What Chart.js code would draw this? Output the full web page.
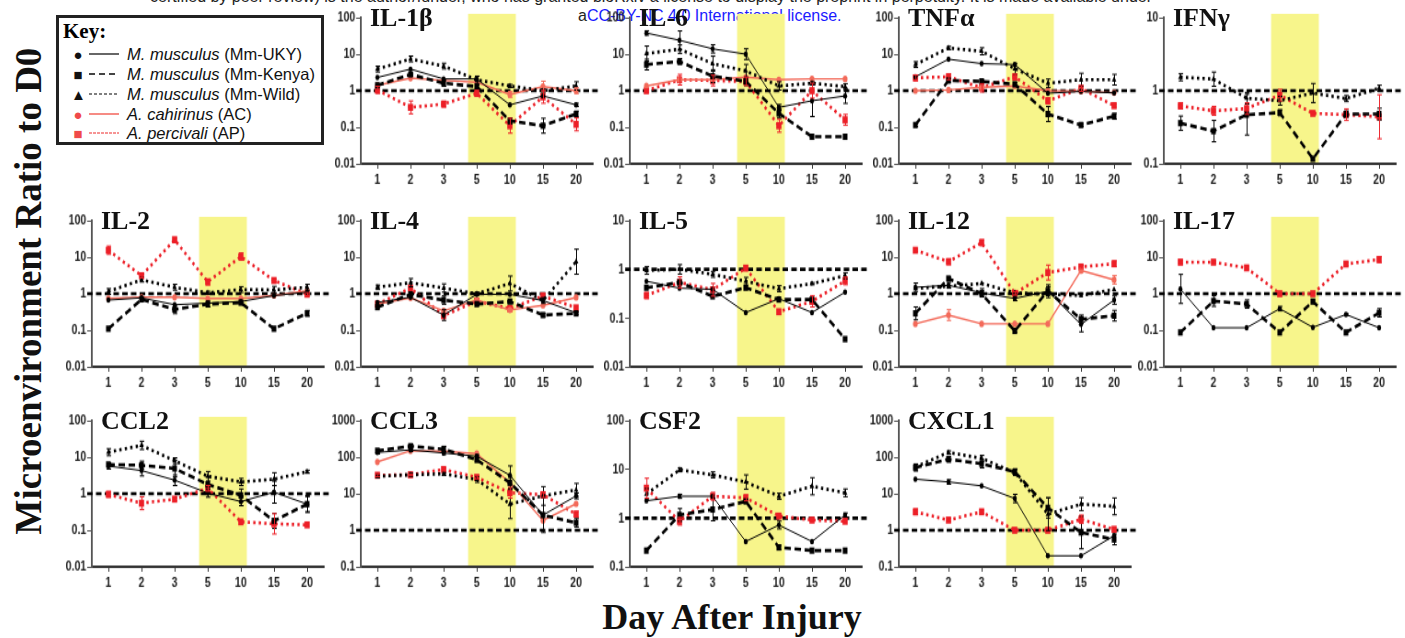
<!DOCTYPE html>
<html>
<head>
<meta charset="utf-8">
<script src="https://cdn.jsdelivr.net/npm/chart.js@4.4.1/dist/chart.umd.min.js"></script>
<style>
  body { margin:0; width:1405px; height:638px; background:#fff; position:relative; overflow:hidden;
         font-family:'Liberation Sans', Arial, sans-serif; }
  .panel { position:absolute; width:276px; height:189px; }
  .ptitle { position:absolute; font:bold 26px 'Liberation Serif','Times New Roman',serif; line-height:1; color:#111; white-space:nowrap; }
  .hdr { position:absolute; font-size:16px; line-height:1; white-space:nowrap; color:#222; }
  .key { position:absolute; left:56px; top:15px; width:268px; height:130px; border:3px solid #222; box-sizing:border-box; background:#fff; }
  .key h4 { margin:0; position:absolute; left:4px; top:3px; font:bold 21px 'Liberation Serif',serif; line-height:1; }
  .krow { position:absolute; left:0; height:20px; display:flex; align-items:center; font-size:16.5px; color:#111; white-space:nowrap; }
  .kmark { width:14px; text-align:center; margin-left:12px; font-size:15px; line-height:1; }
  .kline { margin:0 8px 0 4px; }
  .axt { position:absolute; font:bold 37px 'Liberation Serif','Times New Roman',serif; line-height:1; white-space:nowrap; color:#111; }
</style>
</head>
<body>
<div class="hdr" style="left:150px;top:-11px;">certified by peer review) is the author/funder, who has granted bioRxiv a license to display the preprint in perpetuity. It is made available under</div>
<div class="hdr" style="left:578px;top:8px;color:#1a1aff;"><span style="color:#222">a</span>CC-BY-NC 4.0 International license.</div>

<div class="key">
  <h4>Key:</h4>
  <div class="krow" style="top:26px"><span class="kmark">●</span><svg class="kline" width="30" height="4"><line x1="0" y1="2" x2="30" y2="2" stroke="#000" stroke-width="1.2"/></svg><span><i>M. musculus</i> (Mm-UKY)</span></div>
  <div class="krow" style="top:46px"><span class="kmark">■</span><svg class="kline" width="30" height="4"><line x1="0" y1="2" x2="30" y2="2" stroke="#444" stroke-width="2" stroke-dasharray="6 4"/></svg><span><i>M. musculus</i> (Mm-Kenya)</span></div>
  <div class="krow" style="top:66px"><span class="kmark">▲</span><svg class="kline" width="30" height="4"><line x1="0" y1="2" x2="30" y2="2" stroke="#000" stroke-width="1.2" stroke-dasharray="3 2"/></svg><span><i>M. musculus</i> (Mm-Wild)</span></div>
  <div class="krow" style="top:86px"><span class="kmark" style="color:#f04a4a">●</span><svg class="kline" width="30" height="4"><line x1="0" y1="2" x2="30" y2="2" stroke="#f25a50" stroke-width="1.4"/></svg><span><i>A. cahirinus</i> (AC)</span></div>
  <div class="krow" style="top:105px"><span class="kmark" style="color:#f04a4a">■</span><svg class="kline" width="30" height="4"><line x1="0" y1="2" x2="30" y2="2" stroke="#ee2a2a" stroke-width="1.2" stroke-dasharray="3 1"/></svg><span><i>A. percivali</i> (AP)</span></div>
</div>

<div class="axt" style="left:28px;top:291px;transform:translate(-50%,-50%) rotate(-90deg);">Microenvironment Ratio to D0</div>
<div class="axt" style="left:732px;top:599px;transform:translateX(-50%);font-size:36px;">Day After Injury</div>

<script>
// days after injury (x categories)
const days = ['1', '2', '3', '5', '10', '15', '20'];
const injuryBand = ['5', '10'];

// y tick labels
const ticks4 = [0.01, 0.1, 1, 10, 100];
const ticksIL5 = [0.01, 0.1, 1, 10];
const ticksIFN = [0.1, 1, 10];
const ticksHigh = [0.1, 1, 10, 100, 1000];
const ticksCSF = [0.1, 1, 10, 100];

// ratio to D0, null = strain not plotted
const il1b = {
  uky:   [2.3, 3.9, 2.1, 2.1, 0.41, 0.72, 0.41],
  kenya: [1.4, 2.8, 1.6, 1.3, 0.15, 0.11, 0.23],
  wild:  [3.9, 7.4, 4.7, 2.0, 1.35, 1.0, 1.35],
  ac:    [1.4, 2.2, 1.9, 1.7, 0.79, 1.3, 1.0],
  ap:    [1.05, 0.35, 0.43, 0.85, 0.11, 0.68, 0.12]
};
const il6 = {
  uky:   [38, 24, 14, 10, 0.35, 0.53, 0.72],
  kenya: [5.2, 6.3, 2.5, 1.8, 0.24, 0.055, 0.055],
  wild:  [10.4, 13.7, 5.5, 3.5, 1.35, 1.6, 1.3],
  ac:    [1.35, 2.0, 2.0, 2.35, 2.0, 2.1, 2.1],
  ap:    [1.0, 2.0, 1.9, 1.8, 0.11, 1.0, 0.16]
};
const tnfa = {
  uky:   [2.4, 7.3, 5.5, 5.2, 0.85, 0.96, 0.87],
  kenya: [0.115, 1.9, 1.8, 1.5, 0.23, 0.115, 0.2],
  wild:  [5.2, 14.8, 12, 4.0, 1.6, 2.0, 2.0],
  ac:    [1.0, 1.05, 1.25, 1.35, 1.0, 0.97, 0.88],
  ap:    [2.25, 2.4, 1.2, 2.4, 0.53, 1.15, 0.39]
};
const ifng = {
  uky:   null,
  kenya: [0.36, 0.28, 0.47, 0.50, 0.117, 0.48, 0.48],
  wild:  [1.53, 1.44, 0.79, 0.73, 0.93, 0.78, 1.08],
  ac:    null,
  ap:    [0.62, 0.53, 0.57, 0.87, 0.49, 0.47, 0.44]
};
const il2 = {
  uky:   [0.67, 0.77, 0.50, 0.55, 0.61, 0.89, 1.1],
  kenya: [0.11, 0.70, 0.37, 0.52, 0.57, 0.11, 0.29],
  wild:  [1.15, 2.4, 1.5, 1.06, 1.3, 1.27, 1.5],
  ac:    [0.74, 0.8, 0.8, 0.74, 0.74, 0.89, 1.2],
  ap:    [15.5, 3.1, 30, 2.1, 10.4, 2.3, 0.97]
};
const il4 = {
  uky:   [0.58, 0.8, 0.26, 0.96, 0.96, 0.65, 0.30],
  kenya: [0.43, 0.96, 0.67, 0.52, 0.61, 0.26, 0.29],
  wild:  [1.5, 2.0, 1.43, 1.0, 1.9, 0.65, 7.5],
  ac:    [0.52, 0.77, 0.34, 0.67, 0.36, 0.48, 0.79],
  ap:    [0.52, 1.43, 0.25, 0.63, 0.39, 0.87, 0.41]
};
const il5 = {
  uky:   [0.57, 0.41, 0.39, 0.13, 0.25, 0.13, 0.34],
  kenya: [0.42, 0.54, 0.28, 0.42, 0.24, 0.24, 0.037],
  wild:  [0.95, 1.0, 0.79, 0.57, 0.40, 0.51, 0.74],
  ac:    null,
  ap:    [0.29, 0.54, 0.38, 1.06, 0.135, 0.22, 0.58]
};
const il12 = {
  uky:   [1.5, 1.7, 1.06, 0.74, 1.17, 0.145, 0.67],
  kenya: [0.29, 2.6, 1.0, 0.096, 1.2, 0.2, 0.25],
  wild:  [1.4, 1.6, 1.9, 1.06, 0.96, 0.9, 1.3],
  ac:    [0.15, 0.26, 0.15, 0.15, 0.15, 4.3, 2.4],
  ap:    [15.5, 7.5, 25, 1.02, 3.8, 5.4, 6.6]
};
const il17 = {
  uky:   [1.35, 0.117, 0.117, 0.39, 0.12, 0.27, 0.117],
  kenya: [0.087, 0.63, 0.52, 0.087, 0.61, 0.087, 0.30],
  wild:  null,
  ac:    null,
  ap:    [7.3, 7.3, 5.1, 1.0, 1.0, 6.5, 8.6]
};
const ccl2 = {
  uky:   [5.7, 4.3, 2.35, 1.04, 0.61, 1.1, 0.52],
  kenya: [6.3, 6.0, 4.9, 1.8, 0.9, 0.18, 0.52],
  wild:  [13.7, 21, 8, 3.0, 2.1, 2.5, 4.0],
  ac:    null,
  ap:    [0.96, 0.55, 0.71, 1.4, 0.17, 0.15, 0.14]
};
const ccl3 = {
  uky:   [135, 158, 130, 106, 32, 2.6, 8.7],
  kenya: [150, 200, 165, 85, 20, 2.6, 1.6],
  wild:  [30, 33, 35, 24.5, 5.2, 8.7, 12.7],
  ac:    [74, 150, 145, 125, 20, 1.85, 5.3],
  ap:    [32, 33, 46, 28, 10.6, 9.4, 2.75]
};
const csf2 = {
  uky:   [2.26, 2.8, 2.8, 0.33, 0.72, 0.33, 1.16],
  kenya: [0.215, 1.16, 1.5, 2.2, 0.25, 0.215, 0.215],
  wild:  [3.1, 9.8, 7.7, 5.5, 2.8, 4.5, 3.3],
  ac:    null,
  ap:    [4.1, 0.86, 2.8, 2.6, 1.1, 0.91, 0.86]
};
const cxcl1 = {
  uky:   [25, 21, 16.4, 7.4, 0.2, 0.2, 0.71],
  kenya: [52, 88, 66, 40, 4.1, 0.87, 0.56],
  wild:  [54, 135, 93, 38, 2.75, 5.2, 4.5],
  ac:    null,
  ap:    [3.2, 1.9, 3.2, 1.0, 1.0, 2.0, 1.06]
};

// error bars as a multiplicative spread (bar runs from v/f to v*f), 1 = no visible bar
const il1bErr = {
  uky:   [1, 1, 1, 1, 1, 1, 1.1],
  kenya: [1.1, 1.1, 1.2, 1.1, 1.2, 1.6, 1.2],
  wild:  [1.2, 1.2, 1.2, 1.25, 1.1, 1.1, 1.3],
  ac:    [1, 1, 1, 1, 1.2, 1.4, 1.2],
  ap:    [1.25, 1.5, 1.2, 1.2, 1.6, 1.5, 1.5]
};
const il6Err = {
  uky:   [1.15, 1.8, 1.3, 1.4, 1.2, 2.7, 1.6],
  kenya: [1.4, 1.2, 1.5, 1.3, 1.3, 1, 1],
  wild:  [1.6, 1.3, 1.6, 1.5, 1.3, 1.1, 1.2],
  ap:    [1.1, 1.4, 1.4, 1.3, 1.5, 1.6, 1.4]
};
const tnfaErr = {
  kenya: [1.1, 1.1, 1.1, 1.1, 1.6, 1.1, 1.2],
  wild:  [1.2, 1.1, 1.25, 1.4, 1.3, 1.5, 1.4],
  ap:    [1.2, 1.2, 1.3, 1.2, 1.2, 1.2, 1.1]
};
const ifngErr = {
  kenya: [1.25, 1.4, 1.9, 1.1, 1, 1.1, 1.2],
  wild:  [1.12, 1.25, 1.2, 1.15, 1.35, 1.1, 1.1],
  ap:    [1.1, 1.15, 1.2, 1.2, 1.05, 1.2, 2.0]
};
const il2Err = {
  kenya: [1, 1.1, 1.3, 1.2, 1.1, 1, 1.2],
  wild:  [1.2, 1.15, 1.2, 1.1, 1.2, 1.25, 1.2],
  ap:    [1.3, 1.15, 1.1, 1.2, 1.25, 1.1, 1.1]
};
const il4Err = {
  uky:   [1, 1, 1.4, 1, 1, 1, 1],
  kenya: [1.1, 1.1, 1.3, 1.1, 1.1, 1.1, 1.1],
  wild:  [1.15, 1.3, 1.3, 1.1, 1.6, 1.2, 2.2]
};
const il5Err = {
  wild:  [1.2, 1.25, 1.15, 1.2, 1.15, 1.05, 1.15],
  ap:    [1.15, 1.3, 1.35, 1.1, 1, 1.3, 1.2]
};
const il12Err = {
  uky:   [1.3, 1.2, 1.3, 1.15, 1.5, 1.6, 1.3],
  kenya: [1.5, 1.1, 1.2, 1.1, 1.3, 1.3, 1.4],
  ac:    [1, 1.4, 1, 1, 1, 1.1, 1.3],
  ap:    [1.1, 1.2, 1.2, 1.1, 1.6, 1.1, 1.2]
};
const il17Err = {
  uky:   [2.5, 1, 1, 1.15, 1, 1.05, 1],
  kenya: [1, 1.4, 1.3, 1, 1.1, 1, 1.3],
  ap:    [1.15, 1.1, 1.1, 1, 1, 1.1, 1.2]
};
const ccl2Err = {
  uky:   [1.2, 1.4, 1.4, 1.3, 1.3, 2.0, 1.6],
  kenya: [1.1, 1.3, 1.7, 1.6, 1.5, 1.6, 1.7],
  wild:  [1.25, 1.3, 1.2, 1.35, 1.25, 1.5, 1.1],
  ap:    [1.2, 1.5, 1.1, 1.2, 1.1, 1.9, 1]
};
const ccl3Err = {
  uky:   [1.1, 1.1, 1.1, 1.1, 1.8, 1, 1.2],
  kenya: [1.1, 1.15, 1.2, 1.15, 1.4, 3, 1.3],
  wild:  [1.1, 1.1, 1.1, 1.2, 2.5, 1.8, 1.5],
  ap:    [1.1, 1.05, 1.1, 1.1, 1.4, 1.2, 1.2]
};
const csf2Err = {
  uky:   [1, 1.1, 1, 1, 1.2, 1, 1.1],
  kenya: [1, 1.35, 1.7, 1, 1.1, 1, 1],
  wild:  [1.3, 1.1, 1.15, 1.4, 1.15, 1.5, 1.2],
  ap:    [1.6, 1.2, 1.2, 1.15, 1, 1, 1]
};
const cxcl1Err = {
  uky:   [1, 1.15, 1, 1.3, 1, 1, 1],
  kenya: [1.25, 1.2, 1.3, 1.2, 1.9, 2.8, 1.4],
  wild:  [1.2, 1.1, 1.2, 1.2, 2.8, 1.5, 1.7],
  ap:    [1.2, 1.1, 1.1, 1, 1, 1.3, 1]
};

const panels = [
  { title: 'IL-1β', data: il1b, err: il1bErr, ticks: ticks4, row: 0, col: 1 },
  { title: 'IL-6', data: il6, err: il6Err, ticks: ticks4, row: 0, col: 2 },
  { title: 'TNFα', data: tnfa, err: tnfaErr, ticks: ticks4, row: 0, col: 3 },
  { title: 'IFNγ', data: ifng, err: ifngErr, ticks: ticksIFN, row: 0, col: 4 },
  { title: 'IL-2', data: il2, err: il2Err, ticks: ticks4, row: 1, col: 0 },
  { title: 'IL-4', data: il4, err: il4Err, ticks: ticks4, row: 1, col: 1 },
  { title: 'IL-5', data: il5, err: il5Err, ticks: ticksIL5, row: 1, col: 2 },
  { title: 'IL-12', data: il12, err: il12Err, ticks: ticks4, row: 1, col: 3 },
  { title: 'IL-17', data: il17, err: il17Err, ticks: ticks4, row: 1, col: 4 },
  { title: 'CCL2', data: ccl2, err: ccl2Err, ticks: ticks4, row: 2, col: 0 },
  { title: 'CCL3', data: ccl3, err: ccl3Err, ticks: ticksHigh, row: 2, col: 1 },
  { title: 'CSF2', data: csf2, err: csf2Err, ticks: ticksCSF, row: 2, col: 2 },
  { title: 'CXCL1', data: cxcl1, err: cxcl1Err, ticks: ticksHigh, row: 2, col: 3 }
];

const strainStyle = {
  uky:   { color: '#000', width: 1, dash: [], point: 'circle', r: 2.2 },
  kenya: { color: '#000', width: 2.6, dash: [7, 4], point: 'rect', r: 3.6 },
  wild:  { color: '#000', width: 2.6, dash: [2.5, 3.5], point: 'triangle', r: 2.8 },
  ac:    { color: '#f36a5a', width: 1.4, dash: [], point: 'circle', r: 2.6 },
  ap:    { color: '#ec1f27', width: 2.6, dash: [2.5, 3.5], point: 'rect', r: 4 }
};

const colX = [95, 364, 633, 902, 1167];
const rowY = [15, 218, 418];

const tickFont = { family: "'Liberation Sans', Arial, sans-serif", size: 11.5, weight: 'bold' };

const panelDecor = {
  id: 'panelDecor',
  beforeDraw(chart) {
    const { ctx, chartArea: a, scales: { x } } = chart;
    const step = x.getPixelForValue(1) - x.getPixelForValue(0);
    const l = x.getPixelForValue(days.indexOf(injuryBand[0])) - 0.26 * step;
    const r = x.getPixelForValue(days.indexOf(injuryBand[1])) + 0.18 * step;
    ctx.save();
    ctx.fillStyle = '#f7f58b';
    ctx.fillRect(l, a.top - 3, r - l, a.bottom - a.top + 2);
    ctx.restore();
  },
  beforeDatasetsDraw(chart) {
    const { ctx, chartArea: a, scales: { y } } = chart;
    const yy = y.getPixelForValue(1);
    ctx.save();
    ctx.strokeStyle = '#000';
    ctx.lineWidth = 2.6;
    ctx.setLineDash([6, 3.5]);
    ctx.beginPath();
    ctx.moveTo(a.left - 5, yy);
    ctx.lineTo(a.right + 6, yy);
    ctx.stroke();
    ctx.restore();
  },
  afterDatasetsDraw(chart) {
    const { ctx, scales: { x, y } } = chart;
    ctx.save();
    ctx.lineWidth = 1;
    chart.data.datasets.forEach(ds => {
      if (!ds.errFactor) return;
      ctx.strokeStyle = ds.borderColor;
      ds.data.forEach((v, i) => {
        const f = ds.errFactor[i];
        if (!f || f <= 1) return;
        const px = Math.round(x.getPixelForValue(i)) + 0.5;
        const lo = y.getPixelForValue(Math.max(v / f, y.min));
        const hi = y.getPixelForValue(Math.min(v * f, y.max));
        ctx.beginPath();
        ctx.moveTo(px, lo); ctx.lineTo(px, hi);
        ctx.moveTo(px - 2.5, lo); ctx.lineTo(px + 2.5, lo);
        ctx.moveTo(px - 2.5, hi); ctx.lineTo(px + 2.5, hi);
        ctx.stroke();
      });
    });
    ctx.restore();
  }
};

panels.forEach(p => {
  const left = colX[p.col] - 40, top = rowY[p.row] - 10;
  const box = document.createElement('div');
  box.className = 'panel';
  box.style.left = left + 'px';
  box.style.top = top + 'px';
  const cv = document.createElement('canvas');
  box.appendChild(cv);
  document.body.appendChild(box);

  const t = document.createElement('div');
  t.className = 'ptitle';
  t.textContent = p.title;
  t.style.left = (colX[p.col] + 6) + 'px';
  t.style.top = (rowY[p.row] - 10) + 'px';
  document.body.appendChild(t);

  const datasets = Object.keys(strainStyle)
    .filter(k => p.data[k])
    .map(k => {
      const s = strainStyle[k];
      return {
        label: k,
        data: p.data[k],
        errFactor: p.err[k] || null,
        borderColor: s.color,
        backgroundColor: s.color,
        borderWidth: s.width,
        borderDash: s.dash,
        pointStyle: s.point,
        pointRadius: s.r,
        pointBorderWidth: 0,
        tension: 0
      };
    });

  new Chart(cv, {
    type: 'line',
    data: { labels: days, datasets: datasets },
    options: {
      responsive: false,
      animation: false,
      events: [],
      layout: { padding: { top: 10, right: 8, left: 0, bottom: 0 } },
      plugins: { legend: { display: false }, tooltip: { enabled: false } },
      scales: {
        x: {
          type: 'category',
          offset: true,
          afterFit: s => { s.height = 24; },
          border: { color: '#333', width: 2 },
          grid: { drawOnChartArea: false, tickLength: 4, color: '#333' },
          ticks: { font: tickFont, color: '#222', autoSkip: false, maxRotation: 0, padding: 2 }
        },
        y: {
          type: 'logarithmic',
          min: p.ticks[0],
          max: p.ticks[p.ticks.length - 1],
          afterFit: s => { s.width = 40; },
          afterBuildTicks: s => { s.ticks = p.ticks.map(v => ({ value: v })); },
          border: { color: '#555', width: 2 },
          grid: { drawOnChartArea: false, tickLength: 5, color: '#555' },
          ticks: { font: tickFont, color: '#222', padding: 1, callback: v => String(v) }
        }
      }
    },
    plugins: [panelDecor]
  });
  cv.style.width = '276px';
  cv.style.height = '189px';
});
</script>
</body>
</html>
